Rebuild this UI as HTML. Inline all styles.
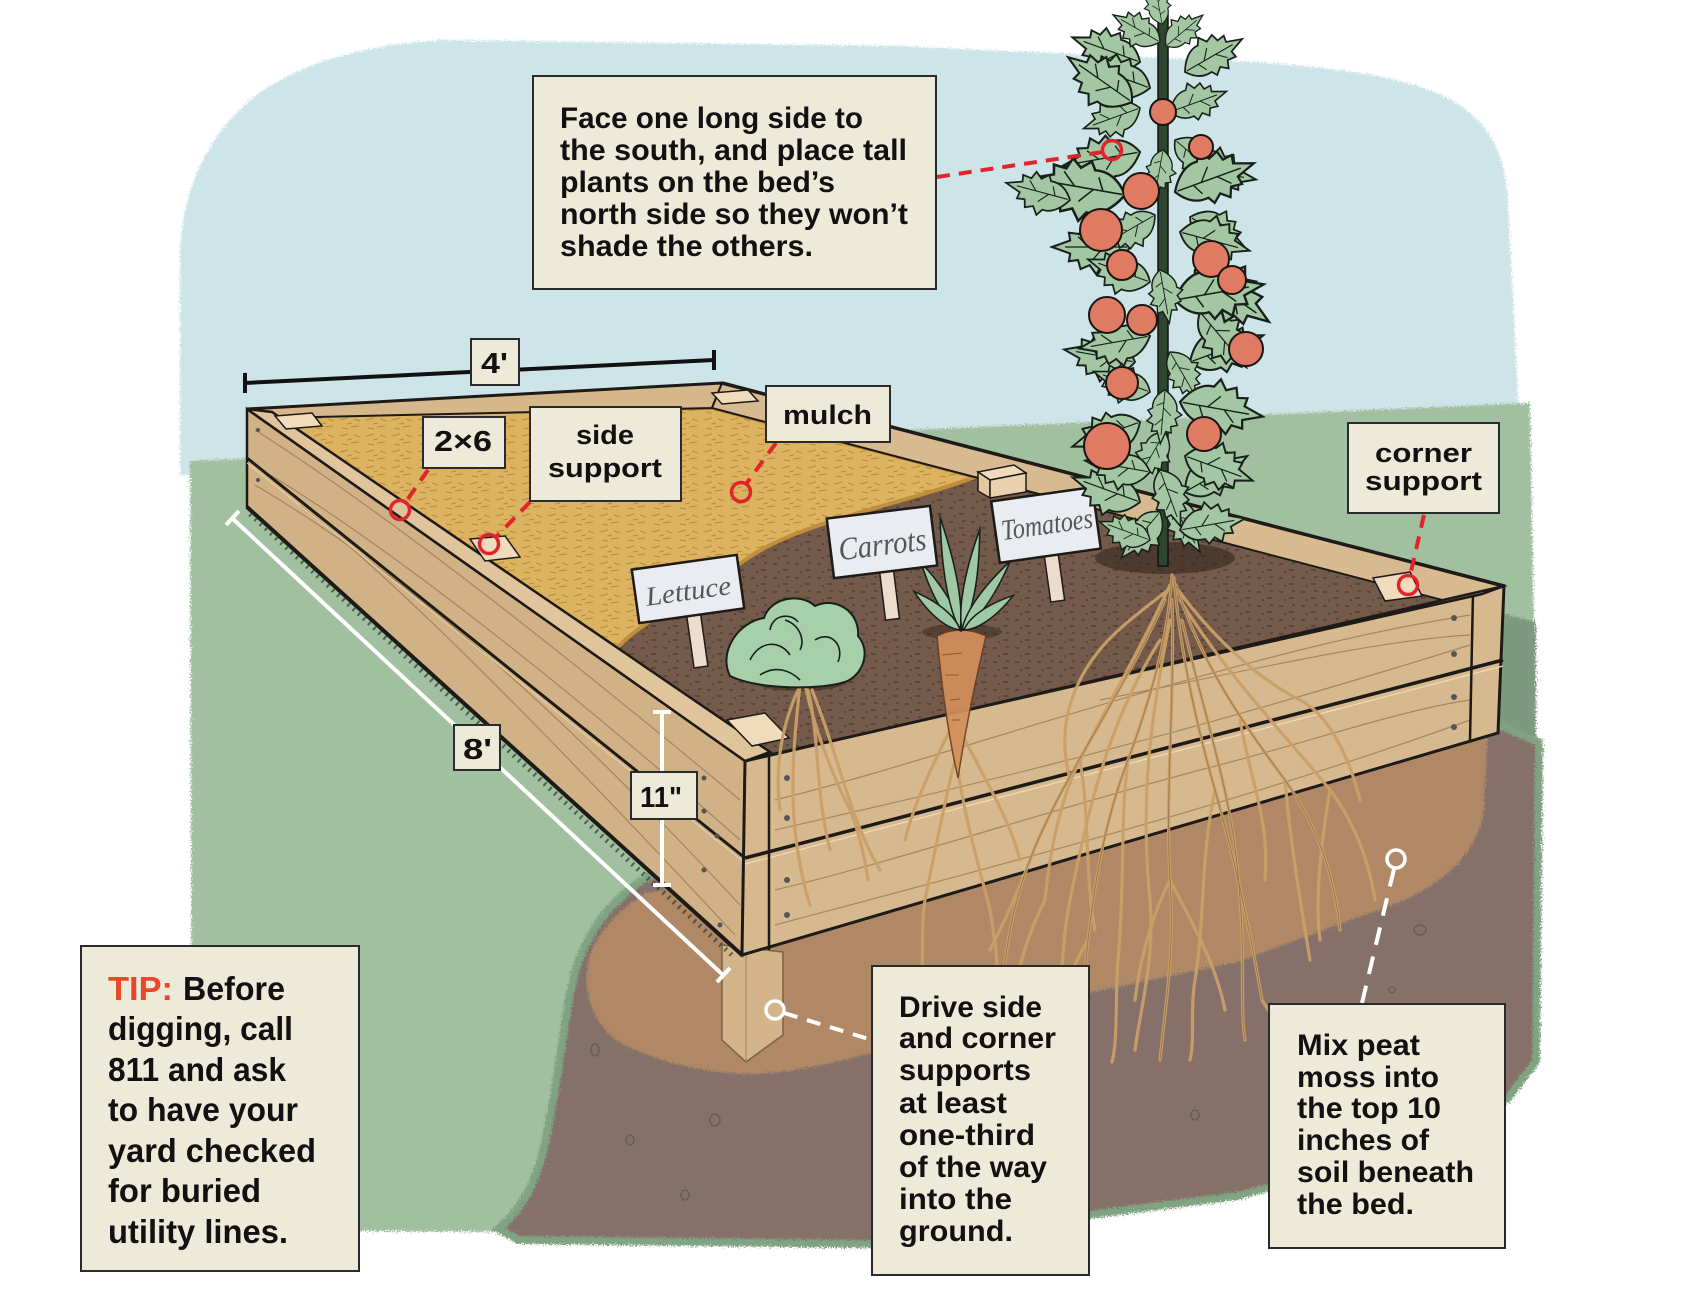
<!DOCTYPE html>
<html><head><meta charset="utf-8"><style>
html,body{margin:0;padding:0;background:#fff;}
svg{display:block;}
.sans{font-family:"Liberation Sans",Arial,sans-serif;}
</style></head><body>
<svg width="1700" height="1292" viewBox="0 0 1700 1292" xmlns="http://www.w3.org/2000/svg">
<defs>
<filter id="rough" x="-3%" y="-3%" width="106%" height="106%">
<feTurbulence type="fractalNoise" baseFrequency="0.7" numOctaves="2" seed="4" result="n"/>
<feDisplacementMap in="SourceGraphic" in2="n" scale="9" xChannelSelector="R" yChannelSelector="G"/>
</filter>
<pattern id="mulchp" width="26" height="16" patternUnits="userSpaceOnUse">
<rect width="26" height="16" fill="#dcb360"/>
<path d="M2,4 l8,-2 M13,11 l8,-1 M4,12 l6,1 M16,3 l6,2 M9,8 l5,-1" stroke="#b88b38" stroke-width="1.1" fill="none"/>
</pattern>
<pattern id="soilp" width="22" height="14" patternUnits="userSpaceOnUse">
<rect width="22" height="14" fill="#735a4a"/>
<path d="M3,4 l4,0 M13,10 l5,0 M8,12 l2,0 M16,3 l3,0" stroke="#4d3a2e" stroke-width="1.2"/>
</pattern>
<g id="lf">
<path d="M0,0 C6,-10 14,-16 22,-15 L26,-21 L31,-14 L38,-17 L40,-10 L47,-11 L46,-5 L60,0 L46,5 L47,11 L39,10 L36,17 L30,12 L24,17 L21,12 C12,13 5,8 0,0 Z" fill="#a2c7a2" stroke="#17201a" stroke-width="1.6"/>
<path d="M2,0 L50,0 M20,0 L28,-9 M32,0 L40,8 M14,0 L18,8" stroke="#17201a" stroke-width="1" fill="none"/>
</g>
<g id="fr">
<path d="M0,0 C10,-6 30,-8 60,0 C30,8 10,6 0,0 Z" fill="#9fc9a4" stroke="#17201a" stroke-width="1.4"/>
</g>
</defs>

<!-- background -->
<g filter="url(#rough)">
<path d="M180,475 L180,250 C183,190 205,140 250,100 C300,60 370,45 440,40 L900,46 L1257,62 C1360,70 1420,80 1460,105 C1495,130 1505,160 1508,200 L1522,475 Z" fill="#cde5e8"/>
<path d="M190,461 L1530,403 L1536,748 L1480,760 L700,900 L520,1232 L192,1230 Z" fill="#a1c0a0"/>
<path d="M1496,612 L1536,622 L1536,745 L1496,738 Z" fill="#7c9a7d"/>
<path d="M650,880 C610,905 585,940 575,990 C565,1040 560,1100 545,1160 C535,1195 520,1215 505,1228 L520,1236 L870,1240 L1000,1222 L1237,1192 L1300,1175 L1420,1130 L1505,1095 L1532,1060 L1535,745 L1500,730 Z" fill="none" stroke="#80a381" stroke-width="16"/>
<path d="M650,880 C610,905 585,940 575,990 C565,1040 560,1100 545,1160 C535,1195 520,1215 505,1228 L520,1236 L870,1240 L1000,1222 L1237,1192 L1300,1175 L1420,1130 L1505,1095 L1532,1060 L1535,745 L1500,730 Z" fill="#857169"/>
<path d="M646,893 C615,912 595,935 588,962 C582,995 595,1030 625,1045 C660,1062 700,1072 745,1074 C790,1074 840,1062 880,1050 L1088,993 L1237,962 L1400,902 C1450,880 1478,850 1484,810 L1488,732 Z" fill="#b08866"/>
</g>
<!-- pebbles -->
<g fill="none" stroke="#6b5a52" stroke-width="1.3">
<ellipse cx="595" cy="1050" rx="4" ry="6"/><ellipse cx="630" cy="1140" rx="4" ry="5"/><ellipse cx="715" cy="1120" rx="5" ry="6"/><ellipse cx="685" cy="1195" rx="4" ry="5"/><ellipse cx="1195" cy="1115" rx="4" ry="5"/><ellipse cx="1420" cy="930" rx="6" ry="5"/><ellipse cx="1392" cy="990" rx="3" ry="3"/><ellipse cx="1030" cy="1150" rx="4" ry="6"/>
</g>

<!-- stake -->
<path d="M722,945 L783,952 L783,1035 L746,1062 L722,1040 Z" fill="#d4b48b" stroke="#7b6147" stroke-width="1.5"/>
<path d="M746,955 L746,1062" stroke="#9c805f" stroke-width="1"/>

<!-- bed left face -->
<path d="M247,409 L745,761 L742,955 L247,507 Z" fill="#d1b186" stroke="#1d1a17" stroke-width="2.5"/>
<g fill="none" stroke="#9b7a55" stroke-width="1.2" opacity="0.8">
<path d="M255,430 C350,490 500,600 740,800"/><path d="M255,485 C400,570 550,700 740,905"/><path d="M262,470 C380,540 560,680 740,840"/><path d="M300,505 C420,600 600,790 735,935"/>
</g>
<path d="M247,458 L745,858" stroke="#1d1a17" stroke-width="3"/>
<path d="M247,463 L745,863" stroke="#e8d2ad" stroke-width="1"/>
<path d="M247,507 L742,955" stroke="#1d1a17" stroke-width="4"/>
<path d="M250,514 L735,958" stroke="#2a3a2a" stroke-width="5" stroke-dasharray="2 5" opacity="0.7"/>
<g fill="#555">
<circle cx="704" cy="778" r="2.5"/><circle cx="704" cy="811" r="2.5"/><circle cx="717" cy="836" r="2.5"/><circle cx="704" cy="870" r="2.5"/><circle cx="720" cy="925" r="2.5"/><circle cx="258" cy="430" r="2"/><circle cx="258" cy="480" r="2"/>
</g>

<!-- bed front face -->
<path d="M745,761 L1504,586 L1498,733 L742,955 Z" fill="#d7b98f" stroke="#1d1a17" stroke-width="3"/>
<g fill="none" stroke="#9b7a55" stroke-width="1.2" opacity="0.8">
<path d="M775,800 C900,770 1100,700 1300,650 C1380,630 1440,620 1470,615"/>
<path d="M775,830 C950,790 1150,745 1470,645"/>
<path d="M775,890 C900,860 1050,810 1200,770 C1300,745 1400,710 1470,700"/>
<path d="M775,925 C1000,865 1250,800 1470,720"/>
<path d="M1100,700 C1250,670 1380,640 1470,635"/>
</g>
<path d="M745,858 L1503,660" stroke="#1d1a17" stroke-width="3.5"/>
<path d="M745,864 L1503,666" stroke="#efdcba" stroke-width="1.2"/>
<path d="M769,756 L769,950 M1473,593 L1470,740" stroke="#1d1a17" stroke-width="2.5"/>
<g fill="#555">
<circle cx="787" cy="778" r="3"/><circle cx="787" cy="818" r="3"/><circle cx="787" cy="880" r="3"/><circle cx="787" cy="915" r="3"/>
<circle cx="1454" cy="618" r="3"/><circle cx="1454" cy="654" r="3"/><circle cx="1454" cy="697" r="3"/><circle cx="1454" cy="727" r="3"/>
</g>

<!-- interior -->
<path d="M247,409 L722,383 L1504,586 L745,761 Z" fill="url(#soilp)"/>
<path d="M272,416 L712,408 L975,477 C900,505 800,522 748,558 C695,596 645,618 617,648 Z" fill="url(#mulchp)" stroke="#c18f3b" stroke-width="4"/>
<path d="M247,409 L722,383 L712,408 L272,418 Z" fill="#d6b78c" stroke="#1d1a17" stroke-width="2"/>
<path d="M722,383 L1504,586 L1446,601 L712,408 Z" fill="#d8ba90" stroke="#1d1a17" stroke-width="2"/>
<path d="M722,383 L1504,586" stroke="#1d1a17" stroke-width="3.5"/>
<path d="M247,409 L272,412 L770,752 L745,761 Z" fill="#e0c59c" stroke="#1d1a17" stroke-width="2.5"/>
<path d="M745,761 L1504,586 L1482,594 L773,754 Z" fill="#e0c59c" stroke="#1d1a17" stroke-width="2.5"/>
<path d="M247,409 L722,383" stroke="#1d1a17" stroke-width="3"/>

<!-- blocks -->
<g fill="#f1dbbd" stroke="#1d1a17" stroke-width="1.5">
<path d="M275,416 L312,413 L322,426 L286,429 Z"/>
<path d="M712,393 L748,390 L758,401 L722,404 Z"/>
<path d="M470,539 L505,536 L520,557 L485,561 Z"/>
<path d="M727,720 L765,713 L789,738 L752,746 Z"/>
<path d="M1373,578 L1410,572 L1422,596 L1385,601 Z"/>
<path d="M978,472 L1014,465 L1026,473 L990,480 Z"/>
<path d="M978,472 L990,480 L990,498 L978,491 Z" fill="#e3c7a0"/>
<path d="M990,480 L1026,473 L1026,492 L990,498 Z" fill="#ead2b0"/>
</g>

<ellipse cx="1165" cy="558" rx="70" ry="16" fill="#2e221b" opacity="0.55"/>
<ellipse cx="800" cy="682" rx="45" ry="9" fill="#2e221b" opacity="0.5"/>
<ellipse cx="962" cy="632" rx="40" ry="8" fill="#2e221b" opacity="0.45"/>

<!-- roots -->
<g fill="none" stroke="#caa068" stroke-width="3.2" stroke-linecap="round" opacity="0.95">
<path d="M1172,575 C1168,640 1150,700 1128,760 C1105,820 1095,880 1088,940 C1083,990 1080,1030 1075,1060"/>
<path d="M1174,578 C1180,650 1195,720 1215,790 C1235,860 1250,930 1262,1000"/>
<path d="M1170,585 C1140,650 1110,700 1080,760 C1060,800 1050,850 1045,900"/>
<path d="M1176,585 C1200,660 1240,720 1285,780 C1320,830 1335,880 1340,930"/>
<path d="M1172,600 C1175,700 1165,790 1170,880 C1175,950 1165,1010 1160,1060"/>
<path d="M1178,590 C1215,640 1260,680 1300,700 C1330,715 1350,760 1360,800"/>
<path d="M1168,590 C1130,620 1100,640 1080,680 C1065,710 1060,740 1070,780"/>
<path d="M1128,760 C1120,820 1125,880 1118,960 C1115,1000 1118,1040 1112,1062"/>
<path d="M1215,790 C1200,860 1205,920 1195,980 C1190,1010 1195,1040 1190,1060"/>
<path d="M1285,780 C1290,840 1300,900 1310,960"/>
<path d="M1088,940 C1070,970 1060,1000 1055,1030"/>
<path d="M1262,1000 C1275,1020 1285,1040 1290,1050"/>
<path d="M1045,900 C1030,930 1020,960 1015,990"/>
<path d="M1170,880 C1150,920 1140,960 1135,1000"/>
<path d="M1170,880 C1190,920 1215,960 1225,1010"/>
<path d="M1080,760 C1090,820 1085,880 1095,930"/>
<path d="M1240,720 C1250,780 1270,820 1265,880"/>
<path d="M1165,600 C1120,700 1060,780 1030,860 C1010,910 1005,960 1000,1000"/>
<path d="M1180,600 C1230,680 1290,740 1330,790 C1360,830 1370,870 1375,900"/>
<path d="M1170,620 C1150,720 1140,800 1150,900 C1155,960 1140,1010 1135,1050"/>
<path d="M1182,620 C1205,720 1235,800 1240,900 C1245,960 1240,1010 1245,1040"/>
<path d="M1160,640 C1110,720 1090,800 1070,900 C1060,950 1062,1000 1058,1040"/>
<path d="M1030,860 C1015,900 1000,930 990,950"/>
<path d="M1330,790 C1320,850 1315,900 1320,940"/>
<path d="M800,685 C795,730 790,780 795,830 C798,860 805,890 810,905"/>
<path d="M805,685 C815,730 830,770 850,810 C860,835 865,860 868,880"/>
<path d="M798,690 C780,730 775,770 780,810"/>
<path d="M808,690 C820,740 815,790 830,850"/>
<path d="M812,690 C840,760 850,820 880,870"/>
<path d="M955,760 C945,800 935,850 925,900 C920,930 925,960 920,980"/>
<path d="M958,770 C965,820 980,870 990,910 C995,940 1000,970 995,990"/>
<path d="M955,720 C935,760 915,800 905,840"/>
<path d="M960,730 C985,780 1010,820 1020,860"/>
</g>
<g fill="none" stroke="#7a5a38" stroke-width="0.9" opacity="0.6">
<path d="M1172,575 C1168,640 1150,700 1128,760 C1105,820 1095,880 1088,940 C1083,990 1080,1030 1075,1060"/>
<path d="M1174,578 C1180,650 1195,720 1215,790 C1235,860 1250,930 1262,1000"/>
<path d="M1176,585 C1200,660 1240,720 1285,780 C1320,830 1335,880 1340,930"/>
<path d="M1172,600 C1175,700 1165,790 1170,880 C1175,950 1165,1010 1160,1060"/>
<path d="M1165,600 C1120,700 1060,780 1030,860 C1010,910 1005,960 1000,1000"/>
<path d="M1182,620 C1205,720 1235,800 1240,900 C1245,960 1240,1010 1245,1040"/>
</g>

<!-- carrot -->
<path d="M937,636 C940,670 946,725 958,778 C966,725 978,670 986,636 C970,628 952,628 937,636 Z" fill="#d48f5c" stroke="#6b3e20" stroke-width="1.5" opacity="0.92"/>
<path d="M942,655 l20,-2 M945,675 l14,0 M950,700 l10,-1 M952,720 l8,0" stroke="#8a5530" stroke-width="1"/>
<use href="#fr" transform="translate(960,630) rotate(-120) scale(1.3,1.1)"/>
<use href="#fr" transform="translate(960,630) rotate(-100) scale(1.9,1.1)"/>
<use href="#fr" transform="translate(962,630) rotate(-80) scale(1.7,1.1)"/>
<use href="#fr" transform="translate(962,630) rotate(-55) scale(1.4,1.1)"/>
<use href="#fr" transform="translate(960,630) rotate(-140) scale(1.0,1.1)"/>
<use href="#fr" transform="translate(964,630) rotate(-35) scale(1.0,1.1)"/>

<!-- lettuce -->
<path d="M730,676 C718,652 738,622 764,618 C770,598 800,592 815,606 C836,596 860,612 858,636 C872,652 862,676 845,682 C820,690 760,690 730,676 Z" fill="#a6cfaa" stroke="#17201a" stroke-width="2"/>
<g fill="none" stroke="#17201a" stroke-width="1.6">
<path d="M750,660 C760,640 780,640 790,655"/><path d="M785,620 C800,625 805,640 800,650"/><path d="M815,640 C830,630 845,645 838,662"/><path d="M760,675 C775,665 790,670 800,680"/><path d="M770,630 C772,615 790,612 798,622"/>
</g>

<!-- signs -->
<g transform="rotate(-8 688 589)">
<rect x="683" y="616" width="14" height="52" fill="#ecdccb" stroke="#1d1a17" stroke-width="1.5"/>
<rect x="635" y="562" width="106" height="54" fill="#e9ecf0" stroke="#1d1a17" stroke-width="2.5"/>
<text x="645" y="600" style="font-family:'Liberation Serif',serif;font-style:italic" font-size="27" fill="#555" textLength="86" lengthAdjust="spacingAndGlyphs">Lettuce</text>
</g>
<g transform="rotate(-7 882 542)">
<rect x="876" y="572" width="14" height="48" fill="#ecdccb" stroke="#1d1a17" stroke-width="1.5"/>
<rect x="830" y="512" width="104" height="60" fill="#e9ecf0" stroke="#1d1a17" stroke-width="2.5"/>
<text x="838" y="555" style="font-family:'Liberation Serif',serif;font-style:italic" font-size="32" fill="#555" textLength="88" lengthAdjust="spacingAndGlyphs">Carrots</text>
</g>
<g transform="rotate(-8 1046 525)">
<rect x="1040" y="556" width="14" height="46" fill="#ecdccb" stroke="#1d1a17" stroke-width="1.5"/>
<rect x="995" y="494" width="102" height="62" fill="#e9ecf0" stroke="#1d1a17" stroke-width="2.5"/>
<text x="1001" y="534" style="font-family:'Liberation Serif',serif;font-style:italic" font-size="29" fill="#555" textLength="92" lengthAdjust="spacingAndGlyphs">Tomatoes</text>
</g>

<!-- tomato plant -->
<rect x="1158" y="14" width="10" height="552" fill="#2e4630" stroke="#111" stroke-width="1.5"/>
<g>
<use href="#lf" transform="translate(1140,62) rotate(200) scale(1.2)"/>
<use href="#lf" transform="translate(1185,72) rotate(-30) scale(1.1)"/>
<use href="#lf" transform="translate(1140,152) rotate(170) scale(1.3)"/>
<use href="#lf" transform="translate(1185,167) rotate(10) scale(1.2)"/>
<use href="#lf" transform="translate(1130,247) rotate(180) scale(1.3)"/>
<use href="#lf" transform="translate(1190,217) rotate(30) scale(1.1)"/>
<use href="#lf" transform="translate(1135,362) rotate(190) scale(1.2)"/>
<use href="#lf" transform="translate(1190,362) rotate(-20) scale(1.3)"/>
<use href="#lf" transform="translate(1140,422) rotate(160) scale(1.2)"/>
<use href="#lf" transform="translate(1185,492) rotate(-30) scale(1.2)"/>
<use href="#lf" transform="translate(1140,502) rotate(200) scale(1.2)"/>
<use href="#lf" transform="translate(1200,312) rotate(50) scale(1.2)"/>
<use href="#lf" transform="translate(1162,24) rotate(-100) scale(0.7)"/>
<use href="#lf" transform="translate(1160,42) rotate(-150) scale(0.9)"/>
<use href="#lf" transform="translate(1166,46) rotate(-40) scale(0.8)"/>
<use href="#lf" transform="translate(1150,88) rotate(-160) scale(1.2)"/>
<use href="#lf" transform="translate(1140,108) rotate(160) scale(1.0)"/>
<use href="#lf" transform="translate(1132,102) rotate(215) scale(1.3)"/>
<use href="#lf" transform="translate(1170,112) rotate(-20) scale(1.0)"/>
<use href="#lf" transform="translate(1175,140) rotate(40) scale(1.0)"/>
<use href="#lf" transform="translate(1125,195) rotate(190) scale(1.6)"/>
<use href="#lf" transform="translate(1070,200) rotate(195) scale(1.1)"/>
<use href="#lf" transform="translate(1155,215) rotate(150) scale(1.0)"/>
<use href="#lf" transform="translate(1175,192) rotate(-20) scale(1.4)"/>
<use href="#lf" transform="translate(1180,232) rotate(15) scale(1.2)"/>
<use href="#lf" transform="translate(1195,270) rotate(35) scale(1.5)"/>
<use href="#lf" transform="translate(1175,300) rotate(-10) scale(1.5)"/>
<use href="#lf" transform="translate(1150,282) rotate(200) scale(1.1)"/>
<use href="#lf" transform="translate(1150,336) rotate(170) scale(1.2)"/>
<use href="#lf" transform="translate(1170,352) rotate(60) scale(0.9)"/>
<use href="#lf" transform="translate(1150,392) rotate(200) scale(1.0)"/>
<use href="#lf" transform="translate(1180,402) rotate(10) scale(1.4)"/>
<use href="#lf" transform="translate(1165,432) rotate(120) scale(0.9)"/>
<use href="#lf" transform="translate(1185,456) rotate(20) scale(1.2)"/>
<use href="#lf" transform="translate(1150,472) rotate(190) scale(1.1)"/>
<use href="#lf" transform="translate(1170,500) rotate(60) scale(1.0)"/>
<use href="#lf" transform="translate(1160,512) rotate(130) scale(1.0)"/>
<use href="#lf" transform="translate(1180,530) rotate(-10) scale(1.1)"/>
<use href="#lf" transform="translate(1150,540) rotate(200) scale(0.9)"/>
<use href="#lf" transform="translate(1163,150) rotate(100) scale(0.8)"/>
<use href="#lf" transform="translate(1160,270) rotate(80) scale(0.9)"/>
<use href="#lf" transform="translate(1165,390) rotate(95) scale(0.9)"/>
<use href="#lf" transform="translate(1160,470) rotate(70) scale(1.0)"/>
</g>
<g fill="#df7b62" stroke="#1a1512" stroke-width="2">
<circle cx="1163" cy="112" r="13"/><circle cx="1201" cy="147" r="12"/><circle cx="1141" cy="191" r="18"/><circle cx="1101" cy="230" r="21"/><circle cx="1122" cy="265" r="15"/><circle cx="1211" cy="259" r="18"/><circle cx="1232" cy="280" r="14"/><circle cx="1107" cy="315" r="18"/><circle cx="1142" cy="320" r="15"/><circle cx="1246" cy="349" r="17"/><circle cx="1122" cy="383" r="16"/><circle cx="1204" cy="434" r="17"/><circle cx="1107" cy="446" r="23"/>
</g>

<!-- dimension lines -->
<g stroke="#111" stroke-width="4" fill="none">
<path d="M245,383 L714,360"/><path d="M245,373 L245,393 M714,350 L714,370"/>
</g>
<g stroke="#fff" stroke-width="4" fill="none">
<path d="M232,518 L723,975"/><path d="M226,525 L239,511 M717,982 L730,968"/>
<path d="M662,712 L662,885"/><path d="M653,712 L671,712 M653,885 L671,885"/>
</g>

<!-- red connectors -->
<g stroke="#e3232b" stroke-width="4" fill="none" stroke-dasharray="13 9">
<path d="M937,177 L1103,152"/>
<path d="M428,470 L405,503"/>
<path d="M530,502 L495,538"/>
<path d="M776,443 L746,484"/>
<path d="M1424,515 L1410,576"/>
</g>
<g stroke="#e3232b" stroke-width="3.5" fill="none">
<circle cx="1112" cy="150" r="9.5"/><circle cx="400" cy="510" r="9.5"/><circle cx="489" cy="544" r="9.5"/><circle cx="741" cy="492" r="9.5"/><circle cx="1408" cy="585" r="9.5"/>
</g>
<g stroke="#fff" stroke-width="4" fill="none">
<path d="M784,1013 L872,1040" stroke-dasharray="14 10"/>
<path d="M1394,869 L1362,1003" stroke-dasharray="18 12"/>
<circle cx="775" cy="1010" r="9" stroke-width="3.5"/>
<circle cx="1396" cy="859" r="9" stroke-width="3.5"/>
</g>

<!-- label boxes -->
<g fill="#eeeada" stroke="#2a2a2a" stroke-width="2">
<rect x="533" y="76" width="403" height="213"/>
<rect x="81" y="946" width="278" height="325"/>
<rect x="872" y="966" width="217" height="309"/>
<rect x="1269" y="1004" width="236" height="244"/>
<rect x="1348" y="423" width="151" height="90"/>
<rect x="530" y="407" width="151" height="94"/>
<rect x="423" y="417" width="82" height="51"/>
<rect x="766" y="386" width="124" height="56"/>
<rect x="471" y="339" width="48" height="46"/>
<rect x="454" y="725" width="46" height="45"/>
<rect x="631" y="772" width="66" height="47"/>
</g>

<g class="sans" font-weight="bold" fill="#111" font-size="30">
<text x="560" y="128" textLength="303" lengthAdjust="spacingAndGlyphs">Face one long side to</text>
<text x="560" y="160" textLength="347" lengthAdjust="spacingAndGlyphs">the south, and place tall</text>
<text x="560" y="192" textLength="275" lengthAdjust="spacingAndGlyphs">plants on the bed’s</text>
<text x="560" y="224" textLength="348" lengthAdjust="spacingAndGlyphs">north side so they won’t</text>
<text x="560" y="256" textLength="253" lengthAdjust="spacingAndGlyphs">shade the others.</text>
</g>

<g class="sans" font-weight="bold" fill="#111" font-size="33">
<text x="108" y="1000" fill="#e8472a" textLength="65" lengthAdjust="spacingAndGlyphs">TIP:</text>
<text x="183" y="1000" textLength="102" lengthAdjust="spacingAndGlyphs">Before</text>
<text x="108" y="1040" textLength="185" lengthAdjust="spacingAndGlyphs">digging, call</text>
<text x="108" y="1081" textLength="178" lengthAdjust="spacingAndGlyphs">811 and ask</text>
<text x="108" y="1121" textLength="190" lengthAdjust="spacingAndGlyphs">to have your</text>
<text x="108" y="1162" textLength="208" lengthAdjust="spacingAndGlyphs">yard checked</text>
<text x="108" y="1202" textLength="153" lengthAdjust="spacingAndGlyphs">for buried</text>
<text x="108" y="1243" textLength="180" lengthAdjust="spacingAndGlyphs">utility lines.</text>
</g>

<g class="sans" font-weight="bold" fill="#111" font-size="30">
<text x="899" y="1017" textLength="143" lengthAdjust="spacingAndGlyphs">Drive side</text>
<text x="899" y="1048" textLength="157" lengthAdjust="spacingAndGlyphs">and corner</text>
<text x="899" y="1080" textLength="132" lengthAdjust="spacingAndGlyphs">supports</text>
<text x="899" y="1113" textLength="108" lengthAdjust="spacingAndGlyphs">at least</text>
<text x="899" y="1145" textLength="136" lengthAdjust="spacingAndGlyphs">one-third</text>
<text x="899" y="1177" textLength="148" lengthAdjust="spacingAndGlyphs">of the way</text>
<text x="899" y="1209" textLength="113" lengthAdjust="spacingAndGlyphs">into the</text>
<text x="899" y="1241" textLength="114" lengthAdjust="spacingAndGlyphs">ground.</text>

<text x="1297" y="1055" textLength="123" lengthAdjust="spacingAndGlyphs">Mix peat</text>
<text x="1297" y="1087" textLength="142" lengthAdjust="spacingAndGlyphs">moss into</text>
<text x="1297" y="1118" textLength="144" lengthAdjust="spacingAndGlyphs">the top 10</text>
<text x="1297" y="1150" textLength="132" lengthAdjust="spacingAndGlyphs">inches of</text>
<text x="1297" y="1182" textLength="177" lengthAdjust="spacingAndGlyphs">soil beneath</text>
<text x="1297" y="1214" textLength="117" lengthAdjust="spacingAndGlyphs">the bed.</text>
</g>

<g class="sans" font-weight="bold" fill="#111" font-size="27">
<text x="1375" y="462" textLength="97" lengthAdjust="spacingAndGlyphs">corner</text>
<text x="1365" y="490" textLength="117" lengthAdjust="spacingAndGlyphs">support</text>
<text x="576" y="444" textLength="58" lengthAdjust="spacingAndGlyphs">side</text>
<text x="548" y="477" textLength="114" lengthAdjust="spacingAndGlyphs">support</text>
<text x="783" y="424" textLength="89" lengthAdjust="spacingAndGlyphs">mulch</text>
</g>
<g class="sans" font-weight="bold" fill="#111" font-size="29">
<text x="434" y="451" textLength="58" lengthAdjust="spacingAndGlyphs">2×6</text>
<text x="481" y="373" textLength="27" lengthAdjust="spacingAndGlyphs">4'</text>
<text x="463" y="759" textLength="29" lengthAdjust="spacingAndGlyphs">8'</text>
<text x="640" y="807" textLength="42" lengthAdjust="spacingAndGlyphs">11"</text>
</g>
</svg>
</body></html>
